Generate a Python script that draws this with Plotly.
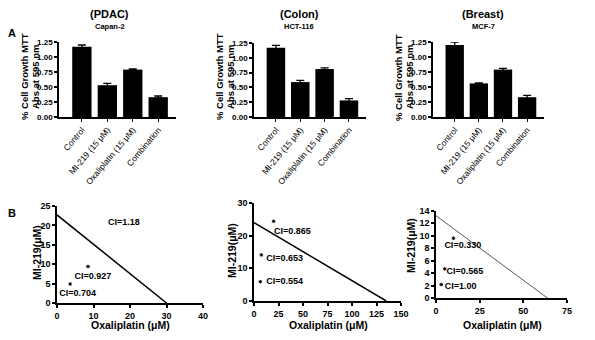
import plotly.graph_objects as go

# page is rendered with the browser's default 8px body margin
OFF = 8
W, H = 595 - 2 * OFF, 340 - 2 * OFF

# ---------------- data ----------------
categories = ["Control", "MI-219 (15 μM)", "Oxaliplatin (15 μM)", "Combination"]

pdac_vals = [1.17, 0.53, 0.79, 0.33]
pdac_err = [0.03, 0.03, 0.01, 0.02]
colon_vals = [1.17, 0.59, 0.81, 0.28]
colon_err = [0.04, 0.03, 0.02, 0.03]
breast_vals = [1.20, 0.56, 0.79, 0.33]
breast_err = [0.05, 0.01, 0.02, 0.03]

bar_titles = ["(PDAC)", "(Colon)", "(Breast)"]
bar_subtitles = ["Capan-2", "HCT-116", "MCF-7"]
bar_yticks = [0, 0.25, 0.5, 0.75, 1.0, 1.25]
bar_ytitle_lines = ["% Cell Growth MTT", "Abs at 595 nm"]

iso1_line_x = [0, 30]
iso1_line_y = [22.7, 0]
iso1_pts_x = [8.5, 3.6]
iso1_pts_y = [9.4, 4.9]
iso1_ci = ["CI=1.18", "CI=0.927", "CI=0.704"]
iso1_ci_x = [14, 4.8, 0.6]
iso1_ci_y = [20.6, 6.8, 2.4]

iso2_line_x = [0, 135]
iso2_line_y = [24, 0]
iso2_pts_x = [20, 7.5, 6.5]
iso2_pts_y = [24.4, 14.1, 5.9]
iso2_ci = ["CI=0.865", "CI=0.653", "CI=0.554"]
iso2_ci_x = [20.5, 12.5, 12.5]
iso2_ci_y = [21.2, 12.8, 5.8]

iso3_line_x = [0, 64]
iso3_line_y = [13.2, 0]
iso3_pts_x = [10, 5, 3]
iso3_pts_y = [9.6, 4.7, 2.2]
iso3_ci = ["CI=0.330", "CI=0.565", "CI=1.00"]
iso3_ci_x = [4.8, 6.0, 5.0]
iso3_ci_y = [8.4, 4.2, 1.9]

# ---------------- layout helpers ----------------
FONT = "Liberation Sans, Arial, sans-serif"
NARROW = "Liberation Sans Narrow, Arial Narrow, Liberation Sans, Arial, sans-serif"


def px(x):
    return (x - OFF) / W


def py(y):
    return 1 - (y - OFF) / H


def xd(a, b):
    return [px(a), px(b)]


def yd(top, bottom):
    return [py(bottom), py(top)]


def note(text, x, y, size, angle=0, bold=True, family=FONT):
    return dict(text=text, x=px(x), y=py(y), xref="paper", yref="paper",
                xanchor="center", yanchor="middle", showarrow=False, textangle=angle,
                font=dict(size=size, weight="bold" if bold else "normal",
                          family=family, color="black"))


fig = go.Figure()

bar_sets = [(pdac_vals, pdac_err), (colon_vals, colon_err), (breast_vals, breast_err)]
bar_axis_x = [59, 254, 433]
bar_x_dom = [xd(59, 176), xd(254, 366), xd(433, 544)]
bar_y_dom = [yd(42, 117), yd(43, 117), yd(42, 117)]

layout = dict(
    template="none",
    width=W, height=H,
    margin=dict(l=0, r=0, t=0, b=0, pad=0),
    paper_bgcolor="white", plot_bgcolor="white",
    showlegend=False,
    font=dict(family=FONT, color="black"),
)

annotations = []

for i, (vals, errs) in enumerate(bar_sets):
    n = i + 1
    xa = "x" if n == 1 else f"x{n}"
    ya = "y" if n == 1 else f"y{n}"
    fig.add_trace(go.Bar(
        x=list(range(len(categories))), y=vals,
        error_y=dict(type="data", array=errs, color="black", thickness=1.3, width=4),
        marker=dict(color="black", line=dict(color="black", width=0)),
        width=0.76, xaxis=xa, yaxis=ya,
    ))
    layout[f"xaxis{'' if n == 1 else n}"] = dict(
        domain=bar_x_dom[i], anchor=ya, range=[-0.9, 3.7], automargin=False,
        tickmode="array", tickvals=list(range(len(categories))), ticktext=categories,
        tickangle=-50, tickfont=dict(size=8.5, family=NARROW),
        showline=True, linecolor="black", linewidth=1.5,
        ticks="outside", ticklen=3, tickwidth=1.2, tickcolor="black",
        showgrid=False, zeroline=False, fixedrange=True,
    )
    layout[f"yaxis{'' if n == 1 else n}"] = dict(
        domain=bar_y_dom[i], anchor=xa, range=[0, 1.25], automargin=False,
        tickmode="array", tickvals=bar_yticks,
        ticktext=[f"{v:.2f}" for v in bar_yticks],
        tickfont=dict(size=8, family=NARROW, weight="bold"),
        showline=True, linecolor="black", linewidth=1.5,
        ticks="outside", ticklen=3, tickwidth=1.5, tickcolor="black",
        showgrid=False, zeroline=False, fixedrange=True,
    )
    # two-line y title
    annotations.append(note(bar_ytitle_lines[0], bar_axis_x[i] - 35, 77, 9.5, -90))
    annotations.append(note(bar_ytitle_lines[1], bar_axis_x[i] - 24, 77, 9.5, -90))

title_cx = [110, 299, 483]
for i in range(3):
    annotations.append(note(bar_titles[i], title_cx[i], 14, 11))
    annotations.append(note(bar_subtitles[i], title_cx[i], 26, 7.5))

annotations.append(note("A", 12, 33, 11))
annotations.append(note("B", 12, 213, 11))

# ---------------- isobolograms ----------------
iso_sets = [
    (iso1_line_x, iso1_line_y, iso1_pts_x, iso1_pts_y, iso1_ci, iso1_ci_x, iso1_ci_y),
    (iso2_line_x, iso2_line_y, iso2_pts_x, iso2_pts_y, iso2_ci, iso2_ci_x, iso2_ci_y),
    (iso3_line_x, iso3_line_y, iso3_pts_x, iso3_pts_y, iso3_ci, iso3_ci_x, iso3_ci_y),
]
iso_x_dom = [xd(57, 203), xd(254, 401), xd(436, 567)]
iso_y_dom = [yd(206, 303), yd(203, 301), yd(210.7, 298.3)]
iso_x_range = [[0, 40], [0, 150], [0, 75]]
iso_y_range = [[0, 25], [0, 30], [0, 14]]
iso_x_dtick = [10, 25, 25]
iso_y_dtick = [5, 10, 2]
iso_line_w = [1.5, 1.5, 0.9]
iso_line_c = ["black", "black", "#444444"]
iso_ytitle_x = [37, 232, 411]
iso_ytitle_y = [253, 251, 246]
iso_xtitle_x = [130, 328, 502]

for j, (lx, ly, pxs, pys, ci, cx, cy) in enumerate(iso_sets):
    n = j + 4
    xa, ya = f"x{n}", f"y{n}"
    fig.add_trace(go.Scatter(x=lx, y=ly, mode="lines",
                             line=dict(color=iso_line_c[j], width=iso_line_w[j]),
                             xaxis=xa, yaxis=ya, cliponaxis=False))
    fig.add_trace(go.Scatter(x=pxs, y=pys, mode="markers",
                             marker=dict(symbol="asterisk-open", size=3, color="black",
                                         line=dict(color="black", width=1)),
                             xaxis=xa, yaxis=ya, cliponaxis=False))
    fig.add_trace(go.Scatter(x=cx, y=cy, mode="text", text=ci, textposition="middle right",
                             textfont=dict(size=9, family=FONT, weight="bold", color="black"),
                             xaxis=xa, yaxis=ya, cliponaxis=False))
    layout[f"xaxis{n}"] = dict(
        domain=iso_x_dom[j], anchor=ya, range=iso_x_range[j], automargin=False,
        tick0=0, dtick=iso_x_dtick[j],
        tickfont=dict(size=9, family=NARROW, weight="bold"),
        showline=True, linecolor="black", linewidth=1.5,
        ticks="outside", ticklen=3, tickwidth=1.5, tickcolor="black",
        showgrid=False, zeroline=False, fixedrange=True,
    )
    layout[f"yaxis{n}"] = dict(
        domain=iso_y_dom[j], anchor=xa, range=iso_y_range[j], automargin=False,
        tick0=0, dtick=iso_y_dtick[j],
        tickfont=dict(size=9, family=NARROW, weight="bold"),
        showline=True, linecolor="black", linewidth=1.5,
        ticks="outside", ticklen=3, tickwidth=1.5, tickcolor="black",
        showgrid=False, zeroline=False, fixedrange=True,
    )
    annotations.append(note("MI-219(μM)", iso_ytitle_x[j], iso_ytitle_y[j], 10.5, -90))
    annotations.append(note("Oxaliplatin (μM)", iso_xtitle_x[j], 325, 10.5))

layout["annotations"] = annotations
fig.update_layout(**layout)

fig.write_html("out.html")
